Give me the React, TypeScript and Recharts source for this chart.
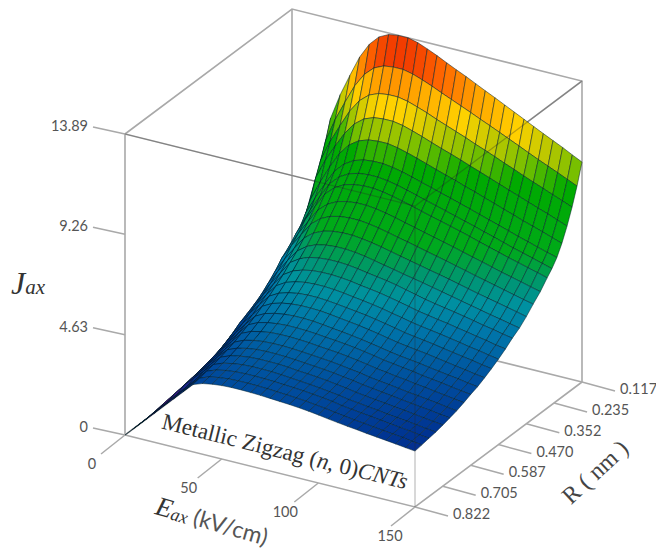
import React from "react";
import { ScatterChart, Scatter, XAxis, YAxis } from "recharts";

const WIDTH = 656;
const HEIGHT = 552;

const eTicks = [0, 50, 100, 150];
const rTicks = [0.117, 0.235, 0.352, 0.47, 0.587, 0.705, 0.822];
const jTicks = [0, 4.63, 9.26, 13.89];

// field values along the surface, kV/cm
const fields = [
  0, 5, 10, 15, 20, 25, 30, 35, 40, 45, 50, 55, 60, 65, 70, 75, 80, 85, 90, 95, 100, 105, 110, 115, 120, 125, 130, 135,
  140, 145, 150,
];

// radius of each row below, nm (front of the box to the back)
const radii = [
  0.822, 0.793, 0.763, 0.734, 0.704, 0.675, 0.646, 0.616, 0.587, 0.558, 0.528, 0.499, 0.47, 0.44, 0.411, 0.381, 0.352,
  0.323, 0.293, 0.264, 0.244, 0.223, 0.202, 0.18, 0.159, 0.138, 0.117,
];

// Jax, one row per radius, one column per field
const jRows = [
  [0,.44,.89,1.33,1.78,2.22,2.66,3.10,3.26,3.34,3.39,3.41,3.41,3.40,3.38,3.35,3.32,3.29,3.25,3.20,3.14,3.07,3.01,2.95,2.90,2.84,2.79,2.74,2.69,2.63,2.58],
  [0,.45,.91,1.36,1.82,2.27,2.71,3.16,3.33,3.41,3.46,3.48,3.48,3.47,3.45,3.42,3.39,3.36,3.32,3.26,3.21,3.13,3.07,3.01,2.96,2.90,2.85,2.80,2.75,2.68,2.63],
  [0,.46,.93,1.39,1.86,2.32,2.78,3.24,3.40,3.49,3.54,3.56,3.56,3.55,3.53,3.50,3.47,3.44,3.39,3.34,3.28,3.20,3.14,3.08,3.03,2.97,2.91,2.86,2.81,2.74,2.69],
  [0,.51,1.02,1.53,2.04,2.47,2.89,3.31,3.48,3.57,3.63,3.65,3.65,3.64,3.61,3.57,3.53,3.49,3.44,3.38,3.32,3.24,3.19,3.13,3.08,3.01,2.96,2.91,2.85,2.79,2.74],
  [0,.52,1.05,1.57,2.10,2.54,2.97,3.40,3.58,3.67,3.73,3.75,3.75,3.74,3.71,3.66,3.63,3.59,3.54,3.47,3.41,3.33,3.27,3.21,3.16,3.10,3.05,2.99,2.93,2.87,2.82],
  [0,.54,1.08,1.62,2.16,2.62,3.07,3.51,3.69,3.79,3.85,3.87,3.87,3.85,3.82,3.78,3.74,3.70,3.65,3.58,3.52,3.44,3.38,3.32,3.26,3.20,3.14,3.08,3.03,2.96,2.91],
  [0,.56,1.12,1.68,2.24,2.71,3.17,3.62,3.82,3.92,3.98,4.00,4.00,3.98,3.95,3.91,3.87,3.83,3.77,3.70,3.64,3.55,3.49,3.43,3.37,3.30,3.25,3.19,3.13,3.06,3.00],
  [0,.58,1.17,1.75,2.33,2.82,3.30,3.78,3.98,4.08,4.15,4.17,4.17,4.15,4.12,4.07,4.03,3.99,3.93,3.86,3.79,3.70,3.64,3.57,3.52,3.44,3.39,3.32,3.26,3.19,3.13],
  [0,.60,1.22,1.82,2.43,2.94,3.45,3.94,4.15,4.26,4.32,4.35,4.35,4.33,4.30,4.25,4.21,4.16,4.10,4.03,3.95,3.86,3.80,3.73,3.67,3.59,3.53,3.47,3.40,3.33,3.27],
  [0,.64,1.29,1.93,2.57,3.12,3.62,4.10,4.33,4.45,4.52,4.55,4.55,4.53,4.48,4.42,4.37,4.31,4.24,4.16,4.08,3.99,3.92,3.86,3.80,3.73,3.66,3.59,3.53,3.45,3.39],
  [0,.69,1.39,2.08,2.77,3.32,3.82,4.31,4.55,4.68,4.75,4.78,4.78,4.76,4.71,4.65,4.59,4.53,4.45,4.37,4.28,4.19,4.12,4.06,4.00,3.92,3.85,3.77,3.70,3.62,3.56],
  [0,.75,1.51,2.25,3.00,3.54,4.04,4.54,4.79,4.92,5.00,5.03,5.03,5.00,4.95,4.89,4.83,4.77,4.69,4.60,4.51,4.41,4.34,4.27,4.21,4.12,4.05,3.97,3.90,3.81,3.74],
  [0,.79,1.59,2.37,3.16,3.73,4.26,4.78,5.05,5.19,5.27,5.30,5.30,5.27,5.22,5.15,5.09,5.02,4.94,4.84,4.75,4.65,4.57,4.50,4.43,4.35,4.27,4.18,4.11,4.02,3.94],
  [0,.83,1.68,2.50,3.34,3.94,4.50,5.05,5.33,5.48,5.57,5.60,5.60,5.57,5.52,5.44,5.38,5.31,5.22,5.12,5.02,4.91,4.83,4.75,4.68,4.59,4.51,4.42,4.34,4.24,4.17],
  [0,.89,1.79,2.66,3.55,4.19,4.78,5.37,5.66,5.83,5.91,5.95,5.95,5.92,5.86,5.78,5.71,5.64,5.55,5.44,5.33,5.22,5.13,5.05,4.97,4.88,4.79,4.69,4.61,4.51,4.43],
  [0,.96,1.93,2.88,3.84,4.50,5.10,5.66,5.98,6.17,6.26,6.30,6.30,6.26,6.19,6.10,6.00,5.91,5.81,5.72,5.63,5.53,5.43,5.33,5.23,5.13,5.03,4.93,4.84,4.74,4.65],
  [0,1.05,2.09,3.12,4.15,4.83,5.44,6.02,6.36,6.56,6.66,6.70,6.70,6.65,6.58,6.49,6.39,6.28,6.18,6.08,5.98,5.88,5.78,5.67,5.56,5.45,5.35,5.25,5.15,5.05,4.94],
  [0,1.14,2.28,3.40,4.53,5.22,5.83,6.43,6.79,7.00,7.11,7.15,7.15,7.10,7.02,6.92,6.81,6.71,6.60,6.49,6.38,6.28,6.16,6.05,5.93,5.82,5.71,5.60,5.49,5.38,5.28],
  [0,1.21,2.42,3.62,4.81,5.55,6.20,6.83,7.21,7.44,7.55,7.60,7.60,7.55,7.46,7.36,7.24,7.13,7.01,6.90,6.79,6.67,6.55,6.43,6.31,6.19,6.06,5.95,5.84,5.72,5.61],
  [0,1.30,2.60,3.88,5.16,5.95,6.65,7.33,7.73,7.98,8.10,8.15,8.15,8.09,8.00,7.89,7.77,7.64,7.52,7.40,7.28,7.16,7.03,6.89,6.76,6.63,6.50,6.38,6.26,6.14,6.01],
  [0,1.35,2.71,4.05,5.38,6.21,6.94,7.64,8.07,8.32,8.45,8.50,8.50,8.44,8.35,8.23,8.10,7.97,7.85,7.72,7.59,7.46,7.33,7.19,7.06,6.92,6.78,6.66,6.53,6.40,6.27],
  [0,1.45,2.90,4.33,5.77,6.60,7.34,8.05,8.49,8.76,8.90,8.95,8.95,8.89,8.79,8.66,8.53,8.40,8.26,8.13,7.99,7.86,7.71,7.57,7.43,7.29,7.14,7.01,6.87,6.74,6.61],
  [0,1.58,3.16,4.72,6.25,7.15,7.97,8.70,9.20,9.50,9.65,9.70,9.70,9.62,9.50,9.36,9.21,9.06,8.91,8.77,8.61,8.47,8.31,8.16,8.00,7.85,7.69,7.55,7.40,7.25,7.09],
  [0,1.78,3.57,5.32,7.07,7.98,8.74,9.45,9.99,10.33,10.50,10.55,10.55,10.47,10.33,10.18,10.01,9.85,9.70,9.54,9.37,9.21,9.04,8.87,8.70,8.54,8.37,8.21,8.05,7.88,7.71],
  [0,1.94,3.89,5.80,7.71,8.69,9.52,10.30,10.89,11.26,11.44,11.50,11.50,11.41,11.26,11.10,10.91,10.74,10.57,10.40,10.21,10.04,9.86,9.67,9.49,9.30,9.12,8.95,8.77,8.59,8.41],
  [0,2.13,4.26,6.35,8.44,9.53,10.43,11.29,11.93,12.34,12.54,12.60,12.60,12.50,12.34,12.16,11.96,11.77,11.58,11.39,11.19,11.00,10.80,10.60,10.40,10.19,9.99,9.80,9.61,9.41,9.21],
  [0,2.35,4.70,7.00,9.30,10.50,11.50,12.45,13.15,13.60,13.82,13.89,13.89,13.78,13.60,13.40,13.18,12.97,12.77,12.55,12.33,12.12,11.90,11.68,11.46,11.24,11.02,10.81,10.60,10.37,10.15],
];

// colour ramp over Jax
const rampStops = [0, 1.3, 2.1, 2.7, 3.5, 4.5, 5.2, 5.8, 6.7, 9, 9.7, 10.4, 11, 11.8, 12.6, 13.6];
const rampColors = [
  [70, 10, 110], [75, 15, 125], [35, 35, 140], [0, 50, 145], [0, 78, 158], [0, 118, 170], [0, 145, 160], [0, 150, 115],
  [0, 170, 25], [0, 170, 0], [110, 190, 0], [190, 200, 0], [255, 210, 0], [255, 170, 0], [255, 105, 0], [235, 35, 0],
];

const AXIS_GREY = "#a9a9a9";
const TEXT_GREY = "#555";

const project = (e: number, r: number, j: number) => {
  const t = e / 150;
  const u = (0.822 - r) / 0.705;
  return { x: 125 + 290 * t + 167 * u, y: 435 + 72 * t - 125 * u - 21.67 * j };
};

const colorFor = (j: number) => {
  let i = 0;
  while (i < rampStops.length - 2 && j > rampStops[i + 1]) i++;
  const f = Math.min(1, (j - rampStops[i]) / (rampStops[i + 1] - rampStops[i]));
  const c = rampColors[i].map((v, k) => Math.round(v + (rampColors[i + 1][k] - v) * f));
  return `rgb(${c[0]},${c[1]},${c[2]})`;
};

// back row first, low field first, so nearer cells paint over farther ones
const cells: any[] = [];
for (let r = radii.length - 2; r >= 0; r--) {
  for (let c = 0; c < fields.length - 1; c++) {
    const corners = [
      project(fields[c], radii[r], jRows[r][c]),
      project(fields[c + 1], radii[r], jRows[r][c + 1]),
      project(fields[c + 1], radii[r + 1], jRows[r + 1][c + 1]),
      project(fields[c], radii[r + 1], jRows[r + 1][c]),
    ];
    cells.push({
      x: corners[0].x,
      y: corners[0].y,
      corners,
      fill: colorFor((jRows[r][c] + jRows[r][c + 1] + jRows[r + 1][c + 1] + jRows[r + 1][c]) / 4),
    });
  }
}

const eMax = fields[fields.length - 1];
const rFront = radii[0];
const rBack = radii[radii.length - 1];
const jTop = jTicks[jTicks.length - 1];

const backEdges = [
  [project(0, rFront, 0), project(0, rFront, jTop), project(0, rBack, jTop), project(eMax, rBack, jTop), project(eMax, rBack, 0)],
  [project(0, rFront, 0), project(0, rBack, 0), project(eMax, rBack, 0)],
  [project(0, rBack, 0), project(0, rBack, jTop)],
  [project(0, rFront, jTop), project(eMax, rFront, jTop), project(eMax, rBack, jTop)],
  [project(0, rFront, 0), project(eMax, rFront, 0), project(eMax, rBack, 0)],
];
const frontEdges = [
  [project(0, rFront, jTop), project(eMax, rFront, jTop), project(eMax, rBack, jTop)],
  [project(eMax, rFront, jTop), project(eMax, rFront, 0)],
];

const shift = (p: { x: number; y: number }, dx: number, dy: number) => ({ x: p.x + dx, y: p.y + dy });

const tickSegments = [
  ...eTicks.map((e) => {
    const p = project(e, rFront, 0);
    return [p, shift(p, -24, 19)];
  }),
  ...rTicks.map((r) => {
    const p = project(eMax, r, 0);
    return [p, shift(p, 33, 9)];
  }),
  ...jTicks.map((j) => {
    const p = project(0, rFront, j);
    return [p, shift(p, -32, -7)];
  }),
];

const tickLabels = [
  ...eTicks.map((e) => ({ ...shift(project(e, rFront, 0), e === 150 ? -25 : -33, 29), text: String(e), anchor: "middle" })),
  ...rTicks.map((r) => ({ ...shift(project(eMax, r, 0), 38, 7), text: r.toFixed(3), anchor: "start" })),
  ...jTicks.map((j) => ({ ...shift(project(0, rFront, j), -37, -8), text: String(j), anchor: "end" })),
];

const noMark = () => null;

const CellShape = (props: any) => {
  const { cx, cy, payload } = props;
  const points = payload.corners.map((p: any) => `${cx + p.x - payload.x},${cy + p.y - payload.y}`).join(" ");
  return <polygon points={points} fill={payload.fill} stroke="rgba(0,30,40,0.5)" strokeWidth={1} strokeLinejoin="round" />;
};

const TickLabel = (props: any) => {
  const { cx, cy, payload } = props;
  return (
    <text x={cx} y={cy} dy="0.35em" textAnchor={payload.anchor} fontFamily="Lato" fontSize={14.5} fill={TEXT_GREY}>
      {payload.text}
    </text>
  );
};

const TitleShape = (props: any) => {
  const { cx, cy, payload } = props;
  return (
    <g transform={`rotate(${payload.angle} ${cx} ${cy})`}>
      <text x={cx} y={cy} textAnchor="middle" fill="#333" dominantBaseline="central">
        {payload.parts.map((p: any, i: number) => (
          <tspan key={i} fontFamily={p.font} fontSize={p.size} fontStyle={p.italic ? "italic" : "normal"} fill={p.fill} dy={p.dy}>
            {p.text}
          </tspan>
        ))}
      </text>
    </g>
  );
};

const SERIF = "Liberation Serif";

const titles = [
  {
    x: 28,
    y: 283,
    angle: 0,
    parts: [
      { text: "J", font: SERIF, size: 32, italic: true },
      { text: "ax", font: SERIF, size: 21, italic: true, dy: 4 },
    ],
  },
  {
    x: 285,
    y: 451,
    angle: 14,
    parts: [
      { text: "Metallic Zigzag (", font: SERIF, size: 23 },
      { text: "n", font: SERIF, size: 23, italic: true },
      { text: ", 0)", font: SERIF, size: 23 },
      { text: "CNTs", font: SERIF, size: 23, italic: true },
    ],
  },
  {
    x: 212,
    y: 521,
    angle: 16,
    parts: [
      { text: "E", font: SERIF, size: 27, italic: true },
      { text: "ax", font: SERIF, size: 18, italic: true, dy: 4 },
      { text: " (kV/cm)", font: "Lato", size: 23, fill: TEXT_GREY, dy: -4 },
    ],
  },
  {
    x: 595,
    y: 472,
    angle: -43,
    parts: [{ text: "R ( nm )", font: SERIF, size: 24, fill: "#444" }],
  },
];

export default function App() {
  return (
    <div style={{ position: "absolute", left: 0, top: 0, width: WIDTH, height: HEIGHT, background: "#fff" }}>
      <ScatterChart width={WIDTH} height={HEIGHT} margin={{ top: 0, right: 0, bottom: 0, left: 0 }}>
        <XAxis type="number" dataKey="x" domain={[0, WIDTH]} hide allowDataOverflow />
        <YAxis type="number" dataKey="y" domain={[0, HEIGHT]} reversed hide allowDataOverflow />
        {backEdges.map((edge, i) => (
          <Scatter key={i} data={edge} line={{ stroke: AXIS_GREY, strokeWidth: 1.6 }} shape={noMark} isAnimationActive={false} />
        ))}
        {tickSegments.map((seg, i) => (
          <Scatter key={i} data={seg} line={{ stroke: AXIS_GREY, strokeWidth: 1.5 }} shape={noMark} isAnimationActive={false} />
        ))}
        <Scatter data={cells} shape={CellShape} isAnimationActive={false} />
        {frontEdges.map((edge, i) => (
          <Scatter key={i} data={edge} line={{ stroke: "rgba(40,40,40,0.3)", strokeWidth: 1.2 }} shape={noMark} isAnimationActive={false} />
        ))}
        <Scatter data={tickLabels} shape={TickLabel} isAnimationActive={false} />
        <Scatter data={titles} shape={TitleShape} isAnimationActive={false} />
      </ScatterChart>
    </div>
  );
}
